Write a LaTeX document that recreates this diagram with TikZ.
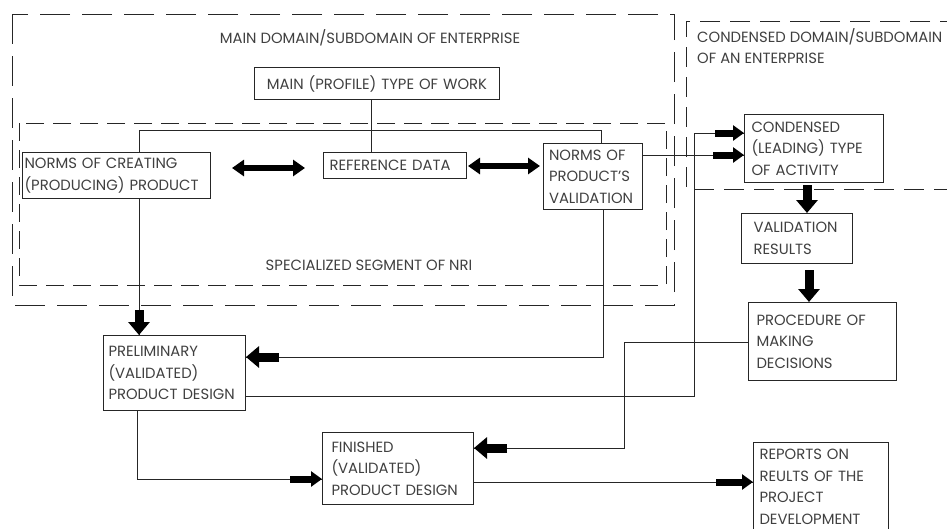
\documentclass[tikz,border=0pt]{standalone}
\usepackage{fontspec}
\setmainfont{Poppins}
\usetikzlibrary{arrows.meta}
\begin{document}
\begin{tikzpicture}[x=1pt,y=-1pt,
  txt/.style={font=\fontsize{14.8}{21.5}\selectfont, text=black!75},
  box/.style={txt, draw=black!85, line width=1pt, anchor=north west, inner xsep=5pt, inner ysep=3pt, align=left},
  conn/.style={draw=black!85, line width=1pt},
  fat/.style={line width=9pt, -{Triangle[length=13pt,width=21pt]}, black},
  fatsm/.style={line width=7pt, -{Triangle[length=11pt,width=15pt]}, black},
  dbl/.style={line width=6pt, {Triangle[length=12pt,width=16pt]}-{Triangle[length=12pt,width=16pt]}, black},
  dashout/.style={draw=black!85, line width=1pt, dash pattern=on 30pt off 12pt},
  dashin/.style={draw=black!85, line width=1pt, dash pattern=on 18pt off 9pt},
  dashcd/.style={draw=black!85, line width=1pt, dash pattern=on 20pt off 10pt}]
\useasboundingbox (0,0) rectangle (947,528);
\fill[white] (0,0) rectangle (947,528);
% dashed domains
\draw[dashout] (12,14) rectangle (674,305);
\draw[dashin] (19,123) rectangle (666,285);
\draw[dashcd] (960,21) -- (686,21) -- (686,189) -- (960,189);
% labels
\node[txt] (lmain) at (370,38) {MAIN DOMAIN/SUBDOMAIN OF ENTERPRISE};
\node[txt] (lseg) at (369,265) {SPECIALIZED SEGMENT OF NRI};
\node[txt, anchor=north west, align=left, inner sep=0pt] (lcond) at (697,28) {CONDENSED DOMAIN/SUBDOMAIN\\OF AN ENTERPRISE};
% boxes
\node[box, text width=235pt, minimum height=32pt, align=center] (mainwork) at (254,67) {MAIN (PROFILE) TYPE OF WORK};
\node[box, inner xsep=2pt, text width=184pt, minimum height=46pt] (creating) at (22,152) {NORMS OF CREATING\\(PRODUCING) PRODUCT};
\node[box, inner xsep=6pt, text width=131pt, minimum height=26pt] (refdata) at (323,152) {REFERENCE DATA};
\node[box, inner xsep=5.5pt, text width=88pt, minimum height=66pt] (validation) at (543,143) {NORMS OF\\PRODUCT'S\\VALIDATION};
\node[box, inner xsep=7pt, text width=125pt, minimum height=68pt] (condensed) at (744,114) {CONDENSED\\(LEADING) TYPE\\OF ACTIVITY};
\node[box, inner xsep=12pt, text width=87pt, minimum height=50pt] (valres) at (741,213) {VALIDATION\\RESULTS};
\node[box, inner xsep=8pt, text width=132pt, minimum height=78pt] (procedure) at (748,302) {PROCEDURE OF\\MAKING\\DECISIONS};
\node[box, inner xsep=5pt, text width=132pt, minimum height=75pt, inner ysep=1pt] (prelim) at (103,335) {PRELIMINARY\\(VALIDATED)\\PRODUCT DESIGN\\[2pt]};
\node[box, inner xsep=9pt, text width=133pt, minimum height=72pt] (finished) at (322,432) {FINISHED\\(VALIDATED)\\PRODUCT DESIGN};
\node[box, inner xsep=6pt, text width=123pt, inner ysep=7pt, anchor=north west] (reports) at (753,442) {REPORTS ON\\REULTS OF THE\\PROJECT\\DEVELOPMENT\\\mbox{}};
% junctions
\coordinate (jm) at (371,130);
\coordinate (j1) at (139,130);
\coordinate (j2) at (601,130);
\coordinate (v1) at (603,357);
\coordinate (c1) at (694,396);
\coordinate (c2) at (694,133);
\coordinate (c3) at (642,155);
\coordinate (p1) at (624,342);
\coordinate (p2) at (624,448);
\coordinate (q1) at (137,479);
\coordinate (r1) at (500,482);
% connectors
\draw[conn] (jm |- mainwork.south) -- (jm |- refdata.north);
\draw[conn] (j1 |- creating.north) -- (j1) -- (j2) -- (j2 |- validation.north);
\draw[conn] (j1 |- creating.south) -- (j1 |- prelim.north);
\draw[conn] (v1 |- validation.south) -- (v1) -- (v1 -| prelim.east);
\draw[conn] (c1 -| prelim.east) -- (c1) -- (c2) -- (c2 -| condensed.west);
\draw[conn] (validation.east |- c3) -- (c3 -| condensed.west);
\draw[conn] (p1 -| procedure.west) -- (p1) -- (p2) -- (p2 -| finished.east);
\draw[conn] (q1 |- prelim.south) -- (q1) -- (q1 -| finished.west);
\draw[conn] (r1 -| finished.east) -- (r1 -| reports.west);
% fat arrow heads
\coordinate (fa1) at (139,310);
\coordinate (fa2) at (279,357);
\coordinate (fa3) at (715,133);
\coordinate (fa4) at (713,155);
\coordinate (fa5) at (807,185);
\coordinate (fa6) at (809,270);
\coordinate (fa7) at (507,448);
\coordinate (fa8) at (290,479);
\coordinate (fa9) at (716,482);
\draw[fat] (fa1) -- (fa1 |- prelim.north);
\draw[fat] (fa2) -- (fa2 -| prelim.east);
\draw[fatsm] (fa3) -- (fa3 -| condensed.west);
\draw[fatsm] (fa4) -- (fa4 -| condensed.west);
\draw[fat] (fa5) -- (fa5 |- valres.north);
\draw[fat] (fa6) -- (fa6 |- procedure.north);
\draw[fat] (fa7) -- (fa7 -| finished.east);
\draw[fatsm] (fa8) -- (fa8 -| finished.west);
\draw[fatsm] (fa9) -- (fa9 -| reports.west);
% double arrows
\coordinate (da1) at (232,168);
\coordinate (da2) at (305,168);
\coordinate (da3) at (468,166);
\coordinate (da4) at (540,166);
\draw[dbl] (da1) -- (da2);
\draw[dbl] (da3) -- (da4);
\end{tikzpicture}
\end{document}
